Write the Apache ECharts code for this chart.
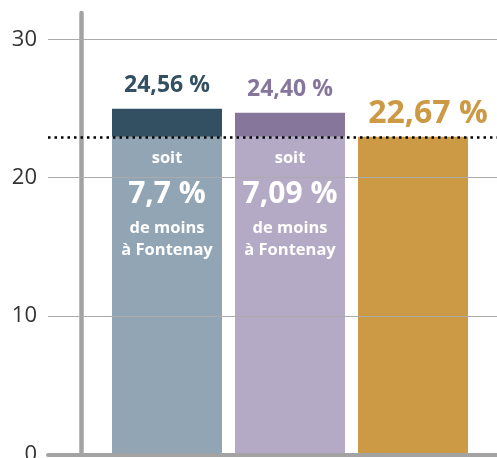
<!DOCTYPE html>
<html><head><meta charset="utf-8">
<script src="https://cdn.jsdelivr.net/npm/echarts@6/dist/echarts.min.js"></script>
<style>html,body{margin:0;padding:0;background:#fff}#c{width:497px;height:458px}</style>
</head><body><div id="c"></div>
<script>
const categories = ['A', 'B', 'C'];
const values = [24.98, 24.69, 22.95];
const valueLabels = ['24,56 %', '24,40 %', '22,67 %'];
const gapLabels = ['7,7 %', '7,09 %', null];
const refValue = 22.95;
const yMax = 31.9;
const yInterval = 10;

const lightColors = ['#91a5b4', '#b5aac6', '#cc9945'];
const darkColors = ['#325062', '#86769c', '#cc9945'];
const FONT = 'Open Sans';

const baseData = values.map((v, i) => {
  const item = { value: Math.min(v, refValue), itemStyle: { color: lightColors[i] } };
  if (gapLabels[i]) {
    item.label = {
      show: true, position: 'insideTop', distance: 6,
      formatter: '{a|soit}\n{b|' + gapLabels[i] + '}\n{c|de moins}\n{c|à Fontenay}',
      rich: {
        a: { color: '#fff', fontFamily: FONT, fontWeight: 'bold', fontSize: 16.5, lineHeight: 30, align: 'center' },
        b: { color: '#fff', fontFamily: FONT, fontWeight: 'bold', fontSize: 30, lineHeight: 44, align: 'center' },
        c: { color: '#fff', fontFamily: FONT, fontWeight: 'bold', fontSize: 16.5, lineHeight: 22, align: 'center' }
      }
    };
  } else {
    item.label = {
      show: true, position: 'top', distance: 7, offset: [15, 0],
      formatter: valueLabels[i], color: darkColors[i],
      fontFamily: FONT, fontWeight: 'bold', fontSize: 32
    };
  }
  return item;
});

const topData = values.map((v, i) => {
  if (v <= refValue) return '-';
  return {
    value: v - refValue, itemStyle: { color: darkColors[i] },
    label: {
      show: true, position: 'top', distance: 12, formatter: valueLabels[i],
      color: darkColors[i], fontFamily: FONT, fontWeight: 'bold', fontSize: 23
    }
  };
});

const chart = echarts.init(document.getElementById('c'), null, { renderer: 'canvas' });
chart.setOption({
  animation: false,
  backgroundColor: '#fff',
  grid: [
    { left: 48, right: 0, top: 13, bottom: 3.5, containLabel: false, outerBoundsMode: 'none' },
    { left: 105.5, right: 22.5, top: 13, bottom: 3.5, containLabel: false, outerBoundsMode: 'none' }
  ],
  xAxis: [
    { gridIndex: 0, type: 'value', min: 0, max: 1, z: 10,
      axisLine: { show: true, onZero: false, lineStyle: { color: '#a3a3a3', width: 4 } },
      axisTick: { show: false }, axisLabel: { show: false }, splitLine: { show: false } },
    { gridIndex: 1, type: 'category', data: categories, show: false }
  ],
  yAxis: [
    { gridIndex: 0, type: 'value', min: 0, max: yMax, interval: yInterval, z: 10,
      axisLine: { show: false }, axisTick: { show: false },
      axisLabel: { margin: 11, color: '#333', fontSize: 22, fontFamily: FONT, showMaxLabel: false },
      splitLine: { show: true, showMaxLine: false, lineStyle: { color: '#ababab', width: 1 } } },
    { gridIndex: 1, type: 'value', min: 0, max: yMax, interval: yInterval, offset: 24,
      axisLine: { show: true, lineStyle: { color: '#a3a3a3', width: 4.5 } },
      axisTick: { show: false }, axisLabel: { show: false }, splitLine: { show: false } }
  ],
  series: [
    { type: 'bar', xAxisIndex: 1, yAxisIndex: 1, stack: 's', barWidth: 110, data: baseData },
    { type: 'bar', xAxisIndex: 1, yAxisIndex: 1, stack: 's', barWidth: 110, data: topData },
    { type: 'line', xAxisIndex: 0, yAxisIndex: 0, data: [], z: 12,
      markLine: { silent: true, symbol: ['none', 'none'], label: { show: false },
        lineStyle: { color: '#000', type: [2.5, 4], width: 2.5 },
        data: [{ yAxis: refValue }] } }
  ]
});
</script></body></html>
